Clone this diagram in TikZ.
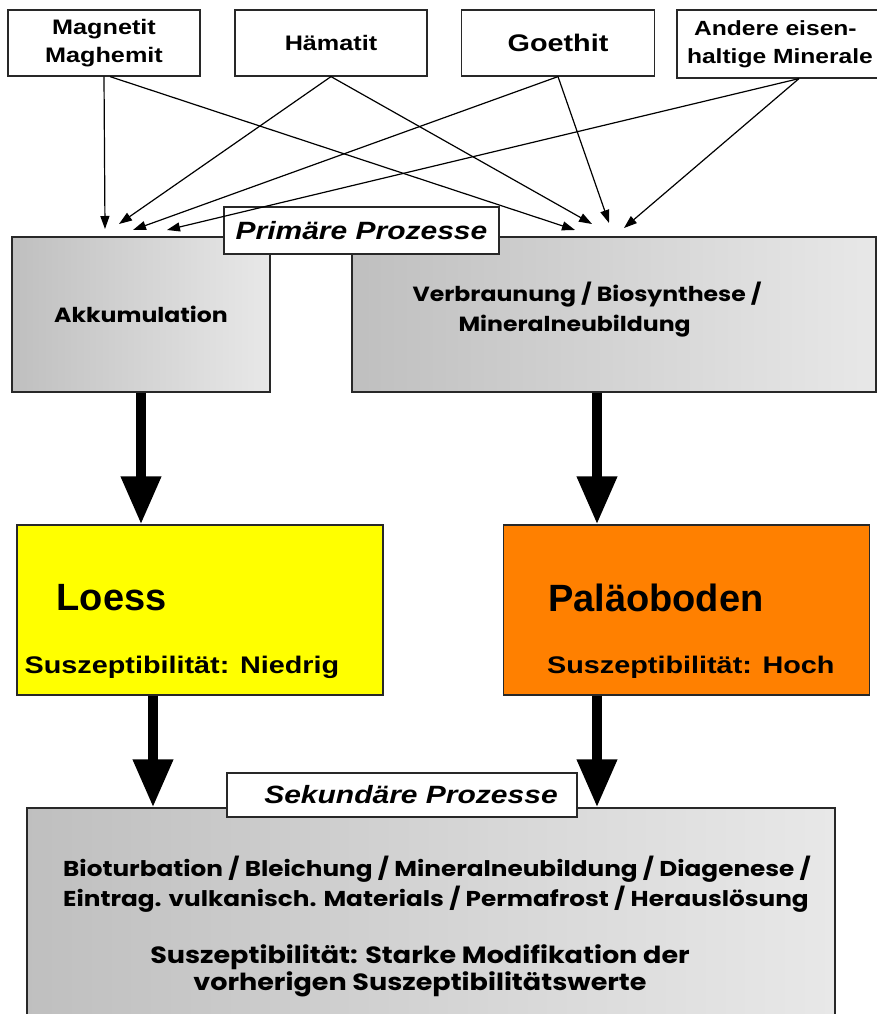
\documentclass[tikz,border=0pt]{standalone}
\usepackage{fontspec}
\setmainfont{Liberation Sans}
\newfontfamily\widesans{Liberation Sans}[FakeStretch=1.2]
\newfontfamily\gothic{Poppins}[FakeStretch=1.15]
\usetikzlibrary{arrows.meta, calc}
\definecolor{loessyellow}{RGB}{255,255,0}
\definecolor{soilorange}{RGB}{255,128,0}
\definecolor{framegray}{RGB}{40,40,40}
\tikzset{
    mineral/.style={
        draw=framegray,
        line width=1.2pt,
        fill=white,
        minimum height=66pt,
        inner sep=0pt,
        align=center,
        font=\widesans\bfseries\fontsize{21}{28}\selectfont
    },
    process/.style={
        draw=framegray,
        line width=1.2pt,
        left color=gray!50,
        right color=gray!18,
        inner sep=0pt,
        font=\gothic\bfseries\fontsize{20.5}{30}\selectfont
    },
    phase/.style={
        draw=framegray,
        line width=1.2pt,
        fill=white,
        inner sep=0pt,
        font=\widesans\bfseries\itshape\fontsize{25}{30}\selectfont
    },
    soilbox/.style={
        draw=framegray,
        line width=1.2pt,
        minimum width=366pt,
        minimum height=170pt,
        inner sep=0pt
    },
    feed/.style={-{Triangle[length=13pt, width=9pt]}, line width=1.2pt},
    bigarrow/.style={-{Triangle[length=48pt, width=38pt]}, line width=10pt}
}

\begin{document}
\begin{tikzpicture}[
    x=1pt, y=-1pt,
    title/.style={anchor=west, inner sep=0pt, font=\bfseries\fontsize{38}{40}\selectfont},
    susz/.style={anchor=west, inner sep=0pt, font=\widesans\bfseries\fontsize{24}{28}\selectfont}
]
\useasboundingbox (0,0) rectangle (877,1014);
\clip (0,0) rectangle (877,1014);

\node[mineral, minimum width=192pt] (magn) at (104,43) {Magnetit\\Maghemit};
\node[mineral, minimum width=192pt] (haem) at (331,43) {Hämatit};
\node[mineral, minimum width=193pt, font=\widesans\bfseries\fontsize{24}{28}\selectfont] (goe) at (558,43) {Goethit};
\node[mineral, minimum width=244pt, minimum height=68pt, text width=224pt, align=left,
    font=\widesans\bfseries\fontsize{20.5}{28}\selectfont] (andere) at (799,44)
    {\hspace*{7pt}Andere eisen-\\haltige Minerale};

\node[process, minimum width=258pt, minimum height=155pt] (akku) at (141,314.5) {Akkumulation};
\node[process, minimum width=524pt, minimum height=155pt] (verbr) at (614,314.5) {};
\node[anchor=west, inner sep=0pt, align=left, font=\gothic\bfseries\fontsize{20.5}{30}\selectfont]
    (verbrtxt) at ([xshift=61pt, yshift=5pt]verbr.west)
    {Verbraunung / Biosynthese /\\\hspace*{46pt}Mineralneubildung};
\node[phase, minimum width=275pt, minimum height=47pt] (prim) at (361.5,230.5) {Primäre Prozesse};

\coordinate (a1) at (105,229);
\coordinate (a2) at (119,224);
\coordinate (a3) at (133,230);
\coordinate (a4) at (167,230);
\coordinate (v1) at (575,230);
\coordinate (v2) at (592,224);
\coordinate (v3) at (609,223);
\coordinate (v4) at (624,228);

\draw[feed] (magn.south) -- (a1);
\draw[feed] ([xshift=6pt]magn.south) -- (v1);
\draw[feed] (haem.south) -- (a2);
\draw[feed] (haem.south) -- (v2);
\draw[feed] (goe.south) -- (a3);
\draw[feed] (goe.south) -- (v3);
\draw[feed] (andere.south) -- (a4);
\draw[feed] (andere.south) -- (v4);

\node[soilbox, fill=loessyellow] (loess) at (200,610) {};
\node[title] (loesstitle) at ([xshift=40pt, yshift=12pt]loess.west) {Loess};
\node[susz] (loesssusz) at ([xshift=8pt, yshift=-57pt]loess.west) {Suszeptibilität: Niedrig};

\node[soilbox, fill=soilorange] (palaeo) at (686.5,610) {};
\node[title] (palaeotitle) at ([xshift=45pt, yshift=12pt]palaeo.west) {Paläoboden};
\node[susz] (palaeosusz) at ([xshift=44pt, yshift=-57pt]palaeo.west) {Suszeptibilität: Hoch};

\node[process, minimum width=808pt, minimum height=232pt] (sek) at (431,924) {};
\node[phase, minimum width=350pt, minimum height=44pt] (sektag) at (402,795) {\hspace*{18pt}Sekundäre Prozesse};
\node[anchor=west, inner sep=0pt, align=left, font=\gothic\bfseries\fontsize{21.5}{30}\selectfont]
    (sekprocs) at (63,884)
    {Bioturbation / Bleichung / Mineralneubildung / Diagenese /\\
     Eintrag. vulkanisch. Materials / Permafrost / Herauslösung};
\node[inner sep=0pt, align=center, font=\gothic\bfseries\fontsize{23.5}{27}\selectfont]
    (sekmod) at (420,971)
    {Suszeptibilität: Starke Modifikation der\\vorherigen Suszeptibilitätswerte};

\coordinate (vdrop) at ([xshift=-17pt]verbr.south);
\coordinate (ldrop) at ([xshift=-47pt]loess.south);
\coordinate (pdrop) at (vdrop |- palaeo.south);

\draw[bigarrow] (akku.south) -- (akku.south |- loess.north);
\draw[bigarrow] (vdrop) -- (vdrop |- palaeo.north);
\draw[bigarrow] (ldrop) -- (ldrop |- sek.north);
\draw[bigarrow] (pdrop) -- (pdrop |- sek.north);

\end{tikzpicture}
\end{document}
